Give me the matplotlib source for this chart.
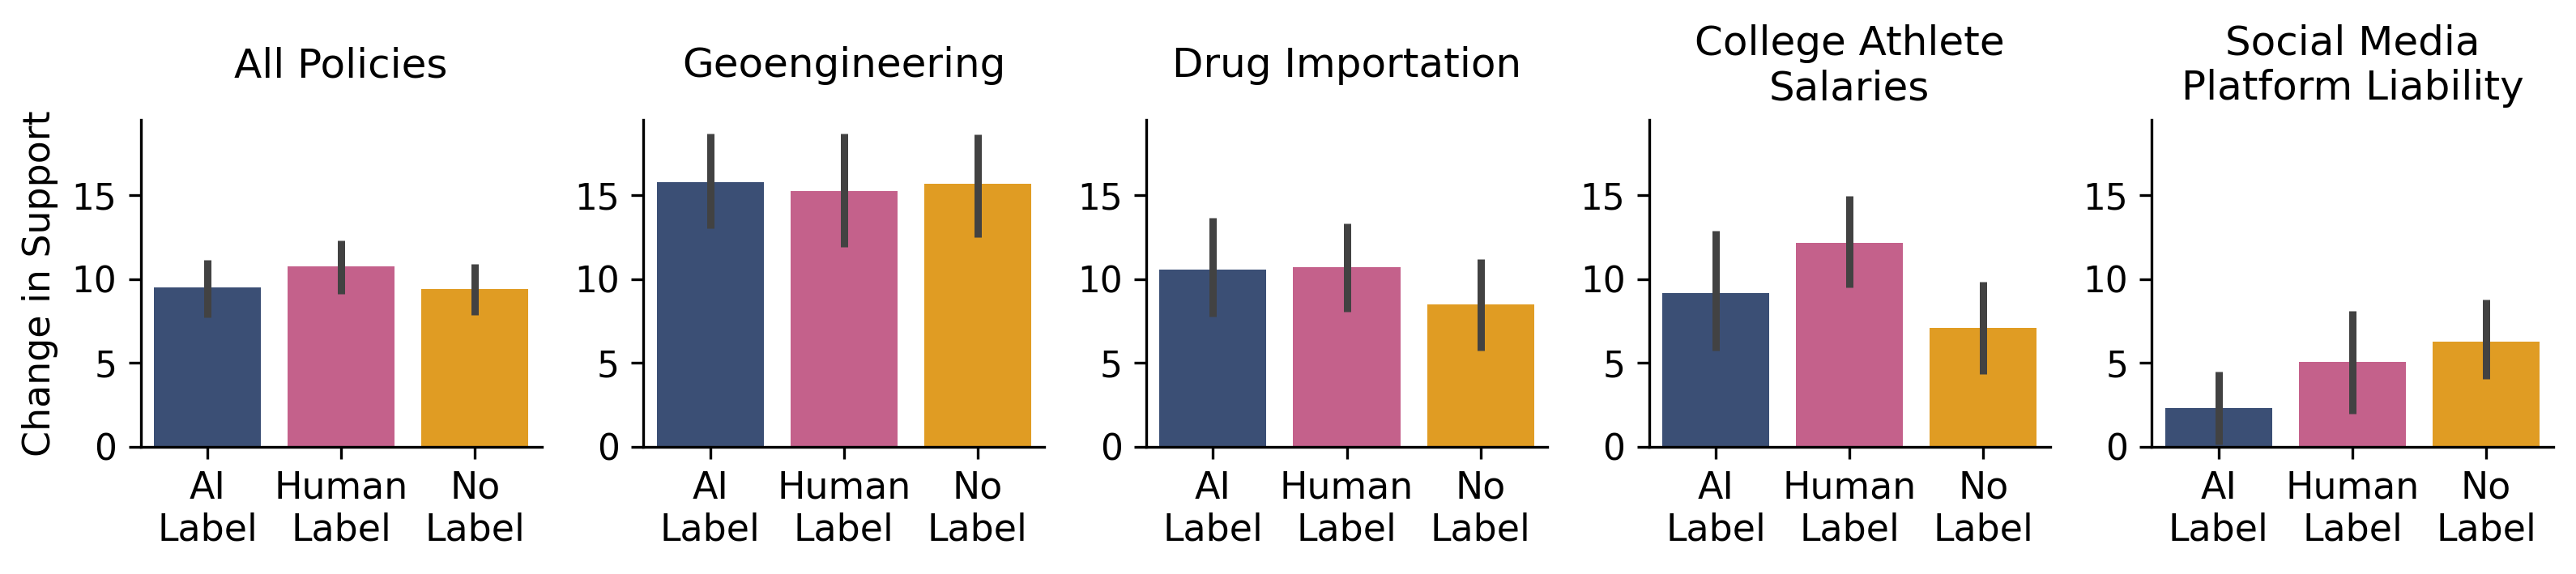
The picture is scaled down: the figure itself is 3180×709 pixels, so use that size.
import matplotlib
matplotlib.use("Agg")
import matplotlib.pyplot as plt
import numpy as np

titles = ["All Policies", "Geoengineering", "Drug Importation",
          "College Athlete\nSalaries", "Social Media\nPlatform Liability"]
conditions = ["AI\nLabel", "Human\nLabel", "No\nLabel"]
colors = ["#3b4f75", "#c4618b", "#e09c23"]

means_all = [9.49, 10.73, 9.38]
lo_all = [7.71, 9.11, 7.87]
hi_all = [11.13, 12.28, 10.90]

means_geo = [15.79, 15.26, 15.69]
lo_geo = [13.00, 11.90, 12.51]
hi_geo = [18.70, 18.70, 18.65]

means_drug = [10.55, 10.70, 8.47]
lo_drug = [7.74, 8.06, 5.73]
hi_drug = [13.65, 13.30, 11.21]

means_college = [9.14, 12.13, 7.07]
lo_college = [5.74, 9.49, 4.34]
hi_college = [12.90, 14.97, 9.82]

means_social = [2.29, 5.07, 6.25]
lo_social = [0.10, 1.98, 4.05]
hi_social = [4.46, 8.08, 8.75]

panels = [
    (means_all, lo_all, hi_all),
    (means_geo, lo_geo, hi_geo),
    (means_drug, lo_drug, hi_drug),
    (means_college, lo_college, hi_college),
    (means_social, lo_social, hi_social),
]

plt.rcParams["font.family"] = ["DejaVu Sans"]

fig, axes = plt.subplots(1, 5, figsize=(10.6, 709 / 300), dpi=300)
fig.subplots_adjust(left=0.05456, right=0.99104, bottom=0.2221, top=0.7913,
                    wspace=0.2535)

for ax, title, (m, lo, hi) in zip(axes, titles, panels):
    x = np.arange(len(conditions))
    ax.bar(x, m, width=0.8, color=colors)
    for xi, l, h in zip(x, lo, hi):
        ax.plot([xi, xi], [l, h], color="#424242", lw=2.16,
                solid_capstyle="butt", zorder=3)
    ax.set_xlim(-0.5, 2.5)
    ax.set_ylim(0, 19.5)
    ax.set_yticks([0, 5, 10, 15])
    ax.set_xticks(x)
    ax.set_xticklabels(conditions, fontsize=11)
    ax.tick_params(axis="y", labelsize=10.5)
    ax.spines["top"].set_visible(False)
    ax.spines["right"].set_visible(False)
    ax.text(0.5, 1.165, title, transform=ax.transAxes, ha="center",
            va="center", fontsize=12)

axes[0].set_ylabel("Change in Support", fontsize=11)

fig.savefig("out.png", dpi=300)
